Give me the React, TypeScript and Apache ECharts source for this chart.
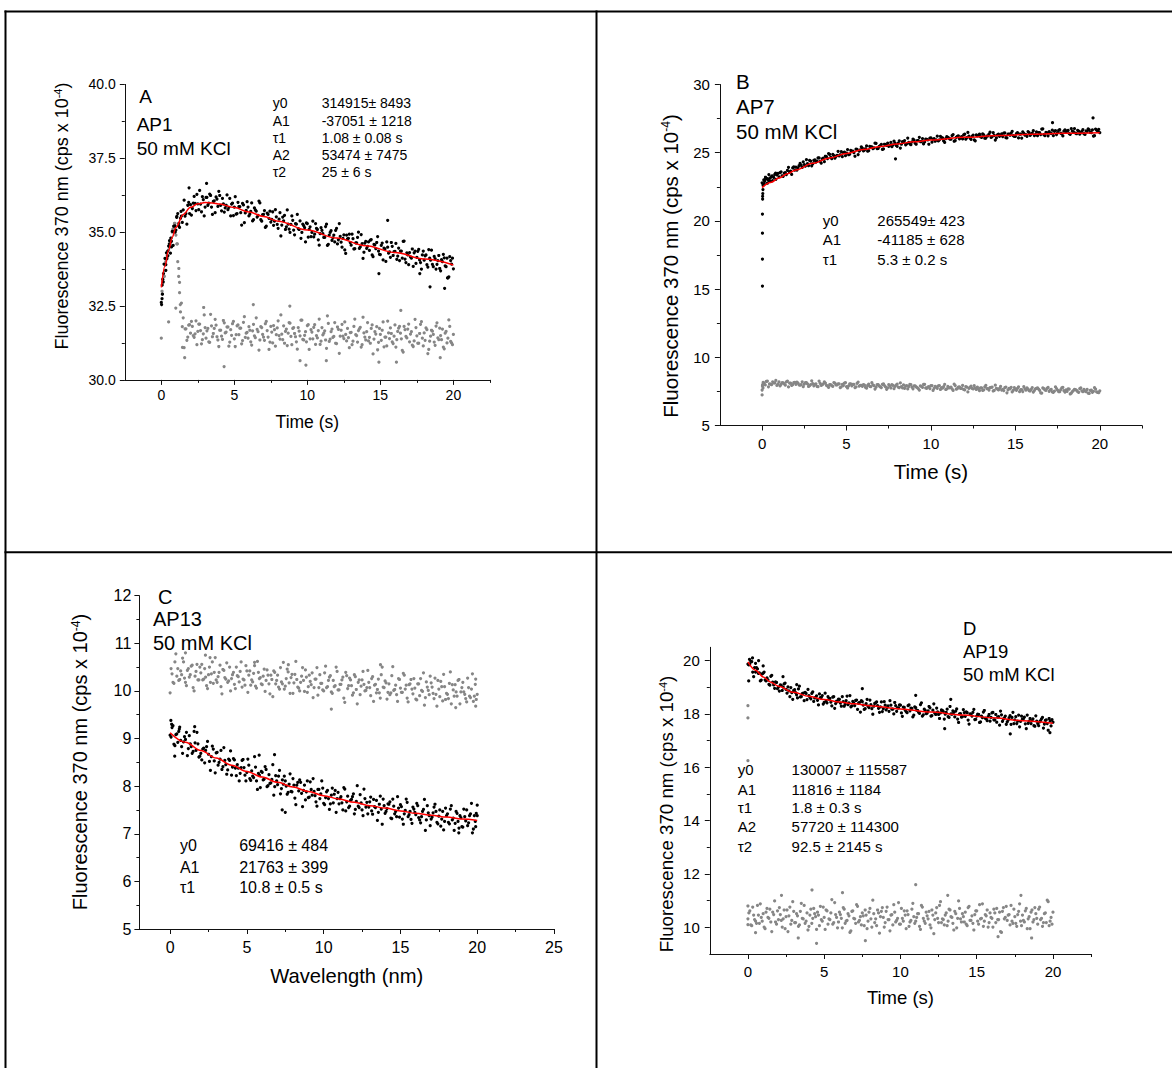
import React, { useEffect, useRef } from "react";
import * as echarts from "echarts";

// sampling step of the time grid (s); "2" arrays are sampled half a step later
const STEP = 0.125;

// ---------------- Panel A (AP1) ----------------
const aBlack = [
  32.62, 33.32, 34.11, 34.10, 34.53, 34.29, 35.03, 35.02,
  35.07, 35.63, 35.16, 35.54, 35.75, 35.54, 35.27, 36.01,
  35.93, 35.80, 36.21, 35.73, 35.96, 36.41, 35.69, 36.10,
  35.85, 36.18, 35.98, 36.24, 35.60, 36.06, 36.19, 35.87,
  36.24, 35.72, 35.96, 35.82, 36.26, 35.84, 35.55, 35.98,
  35.85, 35.61, 36.01, 35.86, 35.24, 35.92, 35.65, 36.03,
  35.55, 35.70, 35.38, 35.82, 35.71, 35.57, 35.99, 35.37,
  35.60, 35.16, 35.64, 35.47, 35.34, 35.69, 35.37, 35.52,
  35.13, 35.66, 35.24, 35.38, 35.09, 35.75, 35.10, 35.26,
  35.40, 34.91, 35.27, 35.12, 35.38, 34.99, 35.22, 34.67,
  35.29, 35.09, 34.85, 35.37, 34.93, 35.13, 34.74, 34.95,
  35.06, 34.82, 35.19, 34.55, 34.90, 35.05, 34.81, 34.67,
  35.13, 34.74, 34.86, 34.49, 34.91, 34.28, 34.77, 34.93,
  34.56, 34.78, 34.44, 34.64, 35.00, 34.50, 34.61, 34.32,
  34.69, 34.52, 34.38, 34.75, 34.17, 34.57, 34.65, 34.36,
  34.24, 34.63, 34.46, 34.01, 34.49, 34.33, 34.65, 34.21,
  34.35, 34.08, 34.46, 34.36, 34.12, 34.70, 33.97, 34.23,
  34.31, 34.12, 33.84, 34.36, 34.15, 34.42, 33.97, 34.23,
  34.05, 34.23, 33.82, 34.12, 34.39, 33.83, 34.10, 33.91,
  34.21, 33.69, 34.00, 34.13, 33.83, 33.45, 34.17, 33.92,
  33.76,
];
const aBlack2 = [
  33.21, 33.92, 33.71, 34.36, 34.71, 34.69, 34.55, 35.21,
  35.53, 35.21, 35.47, 35.33, 36.08, 35.63, 35.91, 35.63,
  35.58, 35.98, 35.97, 36.28, 35.76, 35.95, 36.20, 35.55,
  36.18, 35.91, 36.29, 35.85, 36.04, 35.66, 36.12, 36.38,
  35.91, 36.14, 35.68, 35.91, 35.76, 36.14, 35.95, 35.56,
  36.20, 35.63, 35.86, 35.66, 35.97, 35.32, 35.74, 35.85,
  35.61, 35.99, 35.42, 35.75, 35.51, 36.05, 35.42, 35.59,
  35.73, 35.20, 35.60, 35.71, 35.43, 35.23, 35.76, 35.26,
  35.44, 34.87, 35.51, 35.57, 35.18, 35.27, 34.99, 35.55,
  35.07, 35.29, 35.60, 35.09, 34.79, 35.27, 35.15, 35.31,
  34.83, 35.18, 34.99, 34.84, 35.29, 35.09, 34.56, 35.15,
  34.95, 34.82, 35.27, 34.59, 34.99, 34.72, 34.90, 35.06,
  34.60, 35.29, 34.66, 34.79, 34.40, 34.90, 34.79, 34.65,
  34.93, 34.43, 34.64, 34.82, 34.45, 34.92, 34.11, 34.63,
  34.45, 34.67, 34.73, 34.23, 34.59, 34.44, 34.85, 34.25,
  34.55, 34.06, 34.43, 34.67, 34.29, 34.15, 34.52, 34.34,
  34.62, 34.19, 34.04, 34.36, 34.69, 34.09, 34.30, 33.90,
  34.16, 34.43, 34.30, 33.94, 34.35, 34.06, 33.75, 34.36,
  34.20, 33.90, 34.41, 34.05, 33.91, 34.18, 33.75, 34.04,
  33.77, 34.07, 34.25, 33.86, 34.12, 33.49, 34.04, 34.12,
];
const aBlackExtra = [
  [0.02, 32.55], [0.05, 32.75], [0.08, 32.9], [0.1, 33.4], [0.15, 33.6], [0.3, 33.9],
  [0.35, 34.3], [0.45, 34.2], [0.55, 34.6], [0.65, 34.8], [0.7, 34.5], [0.85, 35.2],
  [0.95, 35.0], [1.05, 35.5], [1.2, 35.3], [1.35, 35.7], [3.1, 36.65], [1.9, 36.5],
  [15.5, 35.4], [18.4, 33.15], [19.4, 33.1], [19.6, 33.45], [14.9, 33.6], [17.7, 33.6],
];
const aGray = [
  31.41, 33.3, 33.7, 34.1, 34.4, 34.6, 35.0, 35.2,
  34.9, 34.0, 33.3, 32.6, 32.10, 31.73, 31.34, 31.85,
  31.58, 31.81, 31.44, 32.00, 31.64, 31.89, 31.22, 31.56,
  31.77, 31.66, 31.29, 32.22, 31.46, 31.74, 31.85, 31.35,
  31.68, 31.48, 32.01, 31.59, 31.79, 31.14, 31.70, 31.90,
  31.39, 31.53, 31.86, 31.75, 31.22, 31.95, 31.44, 31.61,
  31.80, 31.29, 31.66, 31.49, 32.10, 31.63, 31.35, 31.77,
  31.45, 31.90, 31.67, 31.03, 31.81, 31.25, 31.70, 31.53,
  32.00, 31.38, 31.55, 31.83, 31.64, 31.16, 31.94, 31.47,
  31.74, 31.57, 31.29, 31.77, 31.49, 32.02, 31.35, 31.63,
  31.84, 31.03, 31.70, 31.39, 31.87, 31.50, 31.67, 31.20,
  31.77, 31.58, 31.35, 32.17, 31.30, 31.63, 31.44, 31.94,
  31.23, 31.71, 31.48, 31.88, 31.40, 31.54, 31.74, 31.09,
  31.61, 31.31, 32.06, 31.50, 31.67, 31.78, 31.19, 31.59,
  31.35, 31.94, 31.44, 31.74, 30.88, 31.63, 31.80, 31.27,
  31.54, 31.68, 31.12, 31.45, 31.99, 31.40, 31.57, 31.23,
  31.86, 31.36, 31.75, 31.58, 31.00, 31.81, 31.47, 31.72,
  31.29, 31.63, 31.13, 32.05, 31.49, 31.24, 31.88, 31.41,
  31.59, 31.76, 30.89, 31.31, 31.68, 31.54, 31.17, 31.93,
  31.36, 31.50, 31.72, 31.05, 31.64, 31.41, 31.81, 31.25,
  31.54,
];
const aGray2 = [
  32.9, 33.5, 33.9, 34.2, 34.5, 34.8, 35.1, 35.3,
  34.6, 33.5, 32.3, 31.8, 31.09, 31.73, 31.45, 31.87,
  31.98, 31.50, 31.56, 31.19, 31.89, 31.67, 31.36, 32.20,
  31.41, 31.74, 31.27, 31.83, 31.57, 32.05, 31.46, 31.13,
  31.68, 31.37, 31.93, 31.62, 31.79, 31.28, 31.51, 31.98,
  31.13, 31.83, 31.53, 31.75, 31.33, 32.14, 31.58, 31.41,
  31.68, 31.18, 31.88, 31.43, 31.71, 31.01, 31.80, 31.54,
  31.34, 31.98, 31.45, 31.28, 31.62, 31.84, 31.14, 31.76,
  31.50, 32.20, 31.36, 31.24, 31.72, 31.58, 31.92, 31.19,
  31.77, 31.46, 31.04, 31.65, 32.02, 31.37, 31.51, 31.29,
  31.87, 31.39, 31.62, 31.78, 31.20, 31.42, 32.06, 31.31,
  31.52, 31.66, 31.07, 31.91, 31.38, 31.72, 31.47, 31.24,
  31.79, 30.90, 31.68, 31.48, 31.96, 31.32, 31.43, 31.60,
  31.19, 31.81, 31.53, 31.28, 31.73, 31.11, 32.12, 31.45,
  31.63, 31.32, 31.24, 31.86, 31.38, 31.55, 31.02, 31.74,
  31.34, 31.96, 31.45, 31.15, 31.59, 31.76, 31.29, 31.48,
  31.11, 31.64, 31.81, 31.39, 30.94, 31.70, 31.42, 31.89,
  31.55, 31.18, 31.32, 31.77, 31.24, 31.57, 31.97, 31.15,
  31.34, 31.70, 31.03, 31.48, 31.65, 31.28, 31.82, 31.42,
  31.75, 31.36, 31.11, 31.58, 31.25, 32.03, 31.30, 31.19,
];
const aGrayExtra = [
  [0.05, 33.0], [0.1, 33.4], [0.2, 33.5], [0.3, 34.0], [0.4, 34.2], [0.5, 31.96],
  [0.6, 34.5], [0.7, 34.7], [0.8, 35.1], [0.9, 35.3], [0.99, 32.43], [1.1, 34.6],
  [1.2, 33.77], [1.25, 32.95], [1.3, 32.55], [1.45, 31.1], [1.6, 30.75], [4.3, 30.45],
  [9.9, 30.5], [9.5, 30.65], [11.3, 30.65], [14.9, 30.6], [16.1, 30.6], [19.1, 30.75],
  [6.3, 32.55], [8.8, 32.5], [2.9, 32.45], [16.4, 32.35],
];
const aFitT = [0, 0.25, 0.5, 0.75, 1, 1.5, 2, 2.5, 3, 3.5, 4, 5, 6, 7, 8, 10, 12, 14, 16, 18, 20];
const aFitY = [33.13, 33.85, 34.40, 34.83, 35.16, 35.60, 35.84, 35.96, 36.00, 35.99, 35.95, 35.83, 35.68, 35.53, 35.37, 35.07, 34.80, 34.54, 34.31, 34.09, 33.89];

// ---------------- Panel B (AP7) ----------------
const bBlack = [
  22.79, 22.71, 23.10, 22.97, 23.18, 22.95, 23.41, 23.37,
  23.23, 23.60, 23.27, 23.54, 23.70, 23.57, 23.41, 23.96,
  23.94, 23.89, 24.21, 23.92, 24.13, 24.49, 24.05, 24.39,
  24.19, 24.47, 24.38, 24.62, 24.23, 24.60, 24.74, 24.57,
  24.87, 24.56, 24.78, 24.73, 25.10, 24.85, 24.71, 25.05,
  24.97, 24.85, 25.17, 25.12, 24.74, 25.25, 25.11, 25.43,
  25.14, 25.29, 25.11, 25.46, 25.43, 25.35, 25.69, 25.31,
  25.51, 25.24, 25.62, 25.53, 25.47, 25.75, 25.57, 25.71,
  25.47, 25.87, 25.62, 25.75, 25.58, 26.07, 25.65, 25.80,
  25.92, 25.62, 25.89, 25.82, 26.04, 25.79, 25.98, 25.62,
  26.08, 25.97, 25.84, 26.21, 25.94, 26.11, 25.86, 26.03,
  26.13, 25.99, 26.26, 25.84, 26.12, 26.24, 26.09, 26.01,
  26.36, 26.11, 26.21, 25.98, 26.29, 25.87, 26.23, 26.36,
  26.12, 26.30, 26.07, 26.24, 26.50, 26.18, 26.27, 26.08,
  26.37, 26.27, 26.18, 26.46, 26.08, 26.37, 26.44, 26.25,
  26.19, 26.47, 26.37, 26.07, 26.42, 26.32, 26.55, 26.27,
  26.43, 26.26, 26.53, 26.48, 26.33, 26.75, 26.25, 26.46,
  26.55, 26.42, 26.25, 26.62, 26.48, 26.69, 26.38, 26.58,
  26.49, 26.63, 26.35, 26.58, 26.77, 26.39, 26.59, 26.48,
  26.69, 26.34, 26.57, 26.67, 26.47, 26.22, 26.73, 26.58,
  26.47,
];
const bBlack2 = [
  22.70, 23.04, 22.76, 23.10, 23.27, 23.19, 23.05, 23.48,
  23.54, 23.31, 23.50, 23.40, 23.93, 23.65, 23.88, 23.73,
  23.73, 24.05, 24.08, 24.33, 24.02, 24.20, 24.43, 24.04,
  24.44, 24.31, 24.62, 24.36, 24.55, 24.34, 24.71, 24.94,
  24.66, 24.87, 24.60, 24.81, 24.77, 25.08, 25.00, 24.78,
  25.23, 24.89, 25.09, 25.00, 25.26, 24.86, 25.20, 25.33,
  25.19, 25.50, 25.15, 25.42, 25.30, 25.70, 25.30, 25.47,
  25.61, 25.28, 25.60, 25.71, 25.54, 25.44, 25.85, 25.54,
  25.70, 25.34, 25.81, 25.89, 25.65, 25.75, 25.59, 26.00,
  25.70, 25.89, 26.13, 25.81, 25.64, 26.00, 25.94, 26.07,
  25.77, 26.04, 25.94, 25.86, 26.20, 26.09, 25.75, 26.18,
  26.07, 26.00, 26.33, 25.88, 26.19, 26.02, 26.17, 26.30,
  25.99, 26.49, 26.07, 26.19, 25.94, 26.30, 26.25, 26.17,
  26.38, 26.06, 26.22, 26.37, 26.12, 26.47, 25.93, 26.30,
  26.20, 26.38, 26.43, 26.10, 26.37, 26.28, 26.57, 26.19,
  26.40, 26.08, 26.36, 26.53, 26.29, 26.20, 26.47, 26.37,
  26.61, 26.33, 26.25, 26.48, 26.73, 26.32, 26.49, 26.24,
  26.44, 26.65, 26.57, 26.33, 26.63, 26.44, 26.23, 26.68,
  26.60, 26.40, 26.77, 26.53, 26.44, 26.64, 26.36, 26.57,
  26.39, 26.60, 26.75, 26.49, 26.67, 26.25, 26.65, 26.71,
];
const bBlackExtra = [
  [0.02, 15.22], [0.02, 17.2], [0.02, 19.1], [0.02, 20.5], [0.03, 21.6], [0.03, 21.8],
  [0.04, 22.0], [0.05, 22.3], [0.06, 22.6], [0.1, 23.0], [0.15, 22.9], [0.2, 23.2],
  [0.3, 23.1], [0.4, 23.4], [0.5, 22.9], [0.6, 23.3], [0.8, 23.5], [19.6, 27.55],
  [7.9, 24.55], [17.2, 27.2],
];
const bGray = [
  7.24, 8.11, 8.24, 7.84, 8.04, 8.20, 8.12, 7.94,
  8.19, 8.02, 8.12, 7.96, 8.26, 8.11, 7.94, 8.15,
  8.02, 8.11, 7.96, 8.20, 8.04, 8.15, 7.86, 8.00,
  8.07, 8.02, 7.87, 8.26, 7.94, 8.06, 8.11, 7.89,
  8.00, 7.92, 8.15, 7.97, 8.05, 7.78, 8.02, 8.10,
  7.85, 7.91, 8.06, 8.01, 7.78, 8.09, 7.88, 7.95,
  8.00, 7.79, 7.94, 7.87, 8.14, 7.93, 7.81, 7.99,
  7.83, 8.02, 7.93, 7.65, 7.99, 7.75, 7.94, 7.87,
  8.04, 7.78, 7.85, 7.97, 7.88, 7.68, 8.02, 7.81,
  7.90, 7.83, 7.71, 7.91, 7.79, 8.02, 7.73, 7.85,
  7.92, 7.57, 7.86, 7.73, 7.93, 7.78, 7.85, 7.64,
  7.87, 7.78, 7.69, 8.03, 7.66, 7.81, 7.72, 7.94,
  7.61, 7.81, 7.72, 7.88, 7.68, 7.74, 7.82, 7.55,
  7.75, 7.61, 7.94, 7.70, 7.77, 7.82, 7.57, 7.73,
  7.61, 7.86, 7.64, 7.78, 7.40, 7.73, 7.80, 7.57,
  7.66, 7.72, 7.48, 7.63, 7.85, 7.60, 7.67, 7.53,
  7.78, 7.56, 7.73, 7.66, 7.40, 7.75, 7.61, 7.72,
  7.51, 7.65, 7.43, 7.83, 7.59, 7.48, 7.76, 7.55,
  7.61, 7.68, 7.31, 7.49, 7.64, 7.58, 7.43, 7.75,
  7.48, 7.54, 7.64, 7.35, 7.60, 7.51, 7.67, 7.43,
  7.54,
];
const bGray2 = [
  8.16, 7.97, 8.26, 8.05, 7.99, 8.12, 8.30, 8.03,
  7.90, 8.14, 8.06, 8.19, 7.83, 8.11, 7.99, 8.17,
  8.18, 7.98, 8.00, 7.85, 8.15, 8.05, 7.92, 8.28,
  7.91, 8.06, 7.85, 8.09, 7.99, 8.19, 7.94, 7.79,
  8.00, 7.87, 8.11, 7.98, 8.05, 7.84, 7.93, 8.14,
  7.75, 8.05, 7.91, 8.01, 7.83, 8.18, 7.94, 7.87,
  7.96, 7.74, 8.04, 7.85, 7.97, 7.67, 8.00, 7.90,
  7.78, 8.06, 7.83, 7.76, 7.90, 8.00, 7.70, 7.96,
  7.82, 8.12, 7.76, 7.72, 7.92, 7.86, 8.00, 7.69,
  7.91, 7.78, 7.60, 7.87, 8.02, 7.75, 7.81, 7.71,
  7.93, 7.73, 7.82, 7.90, 7.64, 7.74, 8.02, 7.69,
  7.76, 7.82, 7.57, 7.93, 7.70, 7.84, 7.73, 7.64,
  7.85, 7.46, 7.80, 7.72, 7.92, 7.64, 7.69, 7.76,
  7.57, 7.83, 7.71, 7.60, 7.79, 7.53, 7.96, 7.67,
  7.73, 7.60, 7.56, 7.82, 7.62, 7.69, 7.46, 7.78,
  7.58, 7.84, 7.63, 7.49, 7.69, 7.76, 7.55, 7.64,
  7.45, 7.68, 7.75, 7.57, 7.38, 7.70, 7.58, 7.79,
  7.61, 7.46, 7.52, 7.71, 7.48, 7.63, 7.79, 7.45,
  7.50, 7.66, 7.37, 7.56, 7.63, 7.48, 7.70, 7.54,
  7.65, 7.48, 7.37, 7.58, 7.43, 7.77, 7.46, 7.41,
];
const bGrayExtra = [[0.0, 7.6], [0.02, 7.9], [0.03, 8.0], [0.05, 7.75]];
const bFitT = [0, 0.5, 1, 1.5, 2, 3, 4, 5, 6, 7, 8, 9, 10, 12, 14, 16, 18, 20];
const bFitY = [22.44, 22.81, 23.14, 23.45, 23.73, 24.22, 24.62, 24.95, 25.23, 25.46, 25.64, 25.80, 25.93, 26.13, 26.26, 26.35, 26.42, 26.46];

// ---------------- Panel C (AP13) ----------------
const cBlack = [
  9.07, 9.23, 8.88, 9.08, 8.92, 9.24, 8.83, 8.93,
  8.98, 8.64, 9.06, 8.83, 8.73, 8.91, 9.13, 8.61,
  8.69, 8.78, 8.49, 8.83, 8.67, 8.33, 8.84, 8.53,
  8.70, 8.44, 8.57, 8.35, 8.81, 8.45, 8.34, 8.54,
  8.23, 8.58, 8.38, 8.45, 8.11, 8.39, 8.56, 8.23,
  8.29, 8.44, 8.12, 8.21, 8.62, 8.11, 8.27, 7.97,
  8.29, 8.15, 8.35, 8.01, 8.06, 8.14, 7.81, 8.22,
  8.03, 8.33, 7.95, 8.04, 8.11, 7.83, 8.04, 7.89,
  8.16, 7.75, 8.02, 7.90, 8.08, 7.57, 8.02, 7.88,
  7.76, 8.09, 7.81, 7.89, 7.67, 7.93, 7.74, 8.11,
  7.64, 7.76, 7.91, 7.51, 7.81, 7.65, 7.91, 7.74,
  7.63, 7.78, 7.50, 7.94, 7.67, 7.55, 7.70, 7.78,
  7.42, 7.68, 7.58, 7.82, 7.50, 7.94, 7.56, 7.42,
  7.67, 7.48, 7.72, 7.55, 7.28, 7.62, 7.52, 7.73,
  7.43, 7.53, 7.62, 7.33, 7.73, 7.42, 7.36, 7.54,
  7.61, 7.31, 7.42, 7.73, 7.36, 7.47, 7.22, 7.52,
  7.40, 7.59, 7.29, 7.36, 7.51, 7.07, 7.59, 7.38,
  7.31, 7.44, 7.62, 7.24, 7.37, 7.16, 7.47, 7.26,
  7.38, 7.24, 7.52, 7.29, 7.07, 7.47, 7.26, 7.38,
  7.15, 7.52, 7.27, 7.17, 7.38, 7.64, 7.10, 7.26,
  7.38,
];
const cBlack2 = [
  9.03, 9.27, 8.85, 9.10, 9.15, 8.96, 8.69, 9.04,
  9.13, 8.79, 8.89, 8.69, 9.15, 8.75, 8.89, 8.63,
  8.55, 8.80, 8.75, 8.94, 8.52, 8.62, 8.78, 8.28,
  8.71, 8.50, 8.75, 8.41, 8.54, 8.25, 8.57, 8.74,
  8.40, 8.55, 8.22, 8.38, 8.27, 8.54, 8.39, 8.11,
  8.57, 8.16, 8.32, 8.18, 8.40, 7.93, 8.23, 8.31,
  8.13, 8.41, 7.99, 8.24, 8.07, 8.45, 7.99, 8.11,
  8.21, 7.84, 8.13, 8.21, 8.00, 7.87, 8.26, 7.88,
  8.02, 7.61, 8.08, 8.13, 7.85, 7.91, 7.71, 8.11,
  7.77, 7.93, 8.16, 7.80, 7.58, 7.93, 7.84, 7.96,
  7.61, 7.88, 7.74, 7.63, 7.96, 7.83, 7.45, 7.87,
  7.74, 7.65, 7.97, 7.48, 7.79, 7.58, 7.72, 7.84,
  7.51, 8.01, 7.55, 7.65, 7.38, 7.74, 7.66, 7.56,
  7.77, 7.41, 7.57, 7.70, 7.45, 7.79, 7.20, 7.59,
  7.47, 7.63, 7.67, 7.32, 7.58, 7.47, 7.78, 7.35,
  7.57, 7.20, 7.49, 7.66, 7.40, 7.30, 7.56, 7.45,
  7.64, 7.34, 7.23, 7.47, 7.72, 7.29, 7.44, 7.17,
  7.35, 7.56, 7.47, 7.21, 7.50, 7.31, 7.08, 7.54,
  7.42, 7.21, 7.59, 7.33, 7.22, 7.43, 7.12, 7.34,
  7.14, 7.36, 7.50, 7.23, 7.42, 7.02, 7.38, 7.43,
];
const cBlackExtra = [
  [0.05, 9.38], [0.1, 9.3], [0.3, 8.63], [0.6, 9.2], [1.6, 9.25], [7.3, 7.5],
  [7.5, 7.45], [18.8, 7.02], [20, 7.6], [19.9, 7.15], [6.8, 8.66], [5.8, 8.65],
];
const cGray = [
  9.96, 10.36, 10.16, 10.78, 10.47, 10.24, 10.34, 10.61,
  10.18, 10.43, 10.29, 10.52, 10.07, 10.31, 10.56, 10.23,
  10.38, 10.23, 10.47, 10.11, 10.34, 10.18, 10.61, 10.39,
  10.23, 10.30, 10.54, 9.94, 10.43, 10.25, 10.18, 10.50,
  10.26, 10.39, 10.05, 10.32, 10.19, 10.61, 10.25, 10.12,
  10.42, 10.33, 10.12, 10.19, 10.53, 10.06, 10.39, 10.28,
  10.13, 10.46, 10.22, 10.33, 9.94, 10.24, 10.42, 10.15,
  10.33, 10.04, 10.19, 10.60, 10.10, 10.46, 10.17, 10.28,
  9.95, 10.35, 10.24, 10.06, 10.18, 10.49, 9.99, 10.29,
  10.09, 10.20, 10.38, 10.07, 10.25, 9.91, 10.34, 10.16,
  10.00, 10.52, 10.09, 10.29, 9.98, 10.22, 10.11, 10.41,
  10.02, 10.14, 10.29, 9.76, 10.32, 10.11, 10.23, 9.91,
  10.34, 10.03, 10.18, 9.92, 10.23, 10.14, 10.01, 10.43,
  10.07, 10.26, 9.78, 10.14, 10.03, 9.96, 10.34, 10.08,
  10.21, 9.83, 10.15, 9.96, 10.51, 10.03, 9.92, 10.26,
  10.06, 9.97, 10.33, 10.12, 9.77, 10.15, 10.04, 10.26,
  9.83, 10.15, 9.90, 10.01, 10.38, 9.86, 10.08, 9.92,
  10.17, 9.95, 10.27, 9.68, 10.04, 10.20, 9.79, 10.09,
  9.95, 9.84, 10.40, 10.13, 9.89, 9.98, 10.22, 9.73,
  10.07, 9.98, 9.84, 10.27, 9.89, 10.04, 9.78, 10.14,
  9.93,
];
const cGray2 = [
  10.47, 10.18, 10.61, 10.31, 10.22, 10.42, 10.69, 10.27,
  10.11, 10.47, 10.34, 10.54, 10.00, 10.41, 10.23, 10.50,
  10.56, 10.25, 10.29, 10.05, 10.50, 10.36, 10.16, 10.70,
  10.18, 10.39, 10.09, 10.45, 10.28, 10.59, 10.21, 10.00,
  10.34, 10.14, 10.50, 10.30, 10.41, 10.08, 10.23, 10.53,
  9.97, 10.42, 10.23, 10.37, 10.10, 10.62, 10.26, 10.15,
  10.31, 9.99, 10.44, 10.15, 10.33, 9.88, 10.39, 10.22,
  10.08, 10.49, 10.15, 10.04, 10.26, 10.40, 9.95, 10.35,
  10.17, 10.62, 10.08, 10.00, 10.31, 10.22, 10.44, 9.97,
  10.33, 10.13, 9.86, 10.25, 10.49, 10.07, 10.16, 10.02,
  10.38, 10.07, 10.22, 10.32, 9.95, 10.09, 10.50, 10.02,
  10.14, 10.23, 9.85, 10.39, 10.05, 10.27, 10.11, 9.96,
  10.30, 9.73, 10.23, 10.10, 10.41, 10.00, 10.07, 10.18,
  9.90, 10.30, 10.12, 9.96, 10.25, 9.85, 10.50, 10.07,
  10.17, 9.97, 9.92, 10.32, 10.01, 10.12, 9.78, 10.24,
  9.97, 10.37, 10.04, 9.85, 10.13, 10.24, 9.94, 10.06,
  9.81, 10.15, 10.26, 9.99, 9.70, 10.19, 10.01, 10.31,
  10.08, 9.84, 9.93, 10.22, 9.88, 10.09, 10.35, 9.82,
  9.93, 10.16, 9.73, 10.02, 10.13, 9.89, 10.24, 9.98,
  10.18, 9.93, 9.77, 10.07, 9.86, 10.36, 9.89, 9.82,
];
const cGrayExtra = [
  [1.0, 10.8], [2.3, 10.75], [2.6, 10.7], [5.5, 10.6], [7.7, 10.55], [10.5, 9.62],
  [13.7, 10.55], [18.6, 9.65], [19.9, 10.25], [19.9, 9.68],
];
const cFitT = [0, 1, 2, 3, 4, 5, 6, 7, 8, 9, 10, 11, 12, 13, 14, 15, 16, 17, 18, 19, 20];
const cFitY = [9.12, 8.92, 8.75, 8.59, 8.44, 8.31, 8.19, 8.08, 7.98, 7.89, 7.80, 7.73, 7.66, 7.59, 7.54, 7.48, 7.43, 7.39, 7.35, 7.31, 7.28];

// ---------------- Panel D (AP19) ----------------
const dBlack = [
  19.87, 19.88, 19.96, 19.40, 19.57, 19.69, 19.54, 19.27,
  19.53, 19.28, 19.35, 19.11, 19.41, 19.19, 18.96, 19.18,
  19.01, 19.09, 18.88, 19.13, 18.92, 19.02, 18.65, 18.80,
  18.88, 18.80, 18.60, 19.04, 18.65, 18.78, 18.81, 18.54,
  18.69, 18.57, 18.83, 18.60, 18.68, 18.34, 18.61, 18.69,
  18.43, 18.49, 18.65, 18.58, 18.30, 18.65, 18.39, 18.46,
  18.55, 18.29, 18.46, 18.36, 18.67, 18.42, 18.27, 18.47,
  18.31, 18.52, 18.40, 18.07, 18.46, 18.17, 18.39, 18.29,
  18.52, 18.20, 18.29, 18.42, 18.31, 18.06, 18.45, 18.20,
  18.33, 18.24, 18.10, 18.33, 18.18, 18.43, 18.10, 18.23,
  18.33, 17.91, 18.25, 18.09, 18.31, 18.12, 18.21, 17.96,
  18.24, 18.13, 18.02, 18.42, 17.97, 18.13, 18.03, 18.28,
  17.92, 18.14, 18.03, 18.22, 17.98, 18.04, 18.13, 17.81,
  18.06, 17.90, 18.28, 17.99, 18.06, 18.11, 17.81, 18.00,
  17.88, 18.16, 17.91, 18.05, 17.62, 17.99, 18.06, 17.79,
  17.92, 17.98, 17.70, 17.86, 18.13, 17.82, 17.90, 17.73,
  18.04, 17.78, 17.98, 17.88, 17.58, 17.97, 17.81, 17.92,
  17.70, 17.86, 17.61, 18.06, 17.78, 17.64, 17.96, 17.72,
  17.81, 17.88, 17.45, 17.65, 17.83, 17.75, 17.56, 17.93,
  17.64, 17.70, 17.82, 17.47, 17.76, 17.64, 17.83, 17.55,
  17.69,
];
const dBlack2 = [
  19.84, 19.98, 19.57, 19.74, 19.74, 19.52, 19.24, 19.50,
  19.57, 19.24, 19.28, 19.08, 19.45, 19.09, 19.20, 18.95,
  18.86, 19.07, 19.01, 19.16, 18.78, 18.87, 18.99, 18.55,
  18.91, 18.72, 18.94, 18.64, 18.76, 18.50, 18.77, 18.92,
  18.62, 18.77, 18.47, 18.61, 18.51, 18.75, 18.62, 18.37,
  18.78, 18.42, 18.56, 18.44, 18.63, 18.21, 18.48, 18.56,
  18.41, 18.65, 18.29, 18.50, 18.35, 18.69, 18.30, 18.42,
  18.51, 18.17, 18.43, 18.50, 18.33, 18.20, 18.55, 18.24,
  18.35, 17.99, 18.40, 18.45, 18.21, 18.27, 18.09, 18.46,
  18.15, 18.30, 18.50, 18.18, 18.00, 18.31, 18.23, 18.34,
  18.04, 18.26, 18.14, 18.05, 18.34, 18.22, 17.89, 18.27,
  18.14, 18.06, 18.35, 17.92, 18.18, 18.01, 18.12, 18.23,
  17.94, 18.38, 17.98, 18.08, 17.83, 18.15, 18.09, 17.99,
  18.18, 17.87, 18.00, 18.12, 17.89, 18.19, 17.68, 18.01,
  17.90, 18.05, 18.08, 17.77, 18.00, 17.92, 18.17, 17.80,
  17.99, 17.68, 17.92, 18.07, 17.84, 17.75, 17.98, 17.87,
  18.06, 17.78, 17.69, 17.90, 18.11, 17.72, 17.85, 17.61,
  17.77, 17.94, 17.87, 17.64, 17.90, 17.73, 17.52, 17.92,
  17.82, 17.63, 17.96, 17.73, 17.64, 17.82, 17.54, 17.73,
  17.56, 17.75, 17.87, 17.62, 17.78, 17.39, 17.74, 17.79,
];
const dBlackExtra = [
  [0.05, 19.24], [0.1, 20.05], [0.3, 20.1], [0.5, 19.9], [0.7, 20.0], [1.0, 19.8],
  [7.5, 18.95], [11, 18.7], [13.3, 18.55], [17.2, 17.25], [12.9, 17.45], [3.2, 19.1],
  [2.3, 19.4], [19.8, 17.3],
];
const dGray = [
  10.32, 10.62, 10.06, 10.46, 10.23, 10.82, 10.15, 10.37,
  10.51, 9.95, 10.71, 10.34, 10.20, 10.57, 10.99, 10.12,
  10.29, 10.48, 10.01, 10.65, 10.40, 9.84, 10.76, 10.26,
  10.60, 10.18, 10.43, 10.09, 10.90, 10.32, 10.15, 10.54,
  10.04, 10.68, 10.34, 10.51, 9.92, 10.46, 10.79, 10.23,
  10.37, 10.65, 10.12, 10.29, 11.04, 10.18, 10.48, 9.98,
  10.57, 10.34, 10.74, 10.15, 10.26, 10.43, 9.87, 10.62,
  10.32, 10.85, 10.20, 10.40, 10.54, 10.06, 10.46, 10.23,
  10.71, 10.01, 10.51, 10.32, 10.65, 9.78, 10.60, 10.37,
  10.18, 10.76, 10.29, 10.46, 10.09, 10.57, 10.26, 10.93,
  10.12, 10.34, 10.62, 9.95, 10.48, 10.20, 10.68, 10.40,
  10.23, 10.51, 10.04, 10.82, 10.34, 10.15, 10.43, 10.60,
  9.98, 10.46, 10.29, 10.74, 10.18, 10.96, 10.32, 10.09,
  10.54, 10.23, 10.65, 10.37, 9.90, 10.51, 10.34, 10.71,
  10.20, 10.40, 10.57, 10.06, 10.79, 10.26, 10.15, 10.48,
  10.62, 10.12, 10.32, 10.88, 10.23, 10.43, 10.01, 10.54,
  10.34, 10.68, 10.18, 10.29, 10.57, 9.81, 10.74, 10.37,
  10.26, 10.48, 10.82, 10.15, 10.40, 10.04, 10.60, 10.23,
  10.46, 10.20, 10.71, 10.32, 9.95, 10.65, 10.29, 10.51,
  10.12, 10.76, 10.34, 10.18, 10.54, 11.02, 10.06, 10.37,
  10.57,
];
const dGray2 = [
  10.54, 10.09, 10.76, 10.29, 10.15, 10.46, 10.88, 10.23,
  10.01, 10.57, 10.37, 10.68, 9.84, 10.48, 10.20, 10.62,
  10.74, 10.26, 10.32, 9.95, 10.65, 10.43, 10.12, 10.96,
  10.18, 10.51, 10.04, 10.60, 10.34, 10.82, 10.23, 9.90,
  10.46, 10.15, 10.71, 10.40, 10.57, 10.06, 10.29, 10.76,
  9.92, 10.62, 10.32, 10.54, 10.12, 10.93, 10.37, 10.20,
  10.48, 9.98, 10.68, 10.23, 10.51, 9.81, 10.60, 10.34,
  10.15, 10.79, 10.26, 10.09, 10.43, 10.65, 9.95, 10.57,
  10.32, 11.02, 10.18, 10.06, 10.54, 10.40, 10.74, 10.01,
  10.60, 10.29, 9.87, 10.48, 10.85, 10.20, 10.34, 10.12,
  10.71, 10.23, 10.46, 10.62, 10.04, 10.26, 10.90, 10.15,
  10.37, 10.51, 9.92, 10.76, 10.23, 10.57, 10.32, 10.09,
  10.65, 9.76, 10.54, 10.34, 10.82, 10.18, 10.29, 10.46,
  10.06, 10.68, 10.40, 10.15, 10.60, 9.98, 10.99, 10.32,
  10.51, 10.20, 10.12, 10.74, 10.26, 10.43, 9.90, 10.62,
  10.23, 10.85, 10.34, 10.04, 10.48, 10.65, 10.18, 10.37,
  10.01, 10.54, 10.71, 10.29, 9.84, 10.60, 10.32, 10.79,
  10.46, 10.09, 10.23, 10.68, 10.15, 10.48, 10.88, 10.06,
  10.26, 10.62, 9.95, 10.40, 10.57, 10.20, 10.74, 10.34,
  10.68, 10.29, 10.04, 10.51, 10.18, 10.96, 10.23, 10.12,
];
const dGrayExtra = [
  [0.0, 18.31], [0.0, 17.85], [0.0, 16.25], [0.0, 10.8], [0.0, 10.1], [4.5, 9.4],
  [7.7, 9.5], [11.0, 11.6], [4.2, 11.4], [3.3, 9.6], [18.6, 9.6], [16.4, 9.65],
  [2.2, 11.2], [6.2, 11.3], [13.1, 11.2], [17.9, 11.2], [0.5, 9.8],
];
const dFitT = [0, 0.5, 1, 1.5, 2, 3, 4, 5, 6, 7, 8, 10, 12, 14, 16, 18, 20];
const dFitY = [19.95, 19.64, 19.39, 19.19, 19.04, 18.81, 18.66, 18.54, 18.45, 18.38, 18.31, 18.19, 18.07, 17.96, 17.86, 17.75, 17.65];

// ---------------- tick values ----------------
const timeTicks = [0, 5, 10, 15, 20];
const timeMinor = [2.5, 7.5, 12.5, 17.5, 22.5];
const wlTicks = [0, 5, 10, 15, 20, 25];
const wlMinor = [2.5, 7.5, 12.5, 17.5, 22.5];
const aYTicks = [30, 32.5, 35, 37.5, 40];
const aYMinor = [31.25, 33.75, 36.25, 38.75];
const bYTicks = [5, 10, 15, 20, 25, 30];
const bYMinor = [7.5, 12.5, 17.5, 22.5, 27.5];
const cYTicks = [5, 6, 7, 8, 9, 10, 11, 12];
const cYMinor = [5.5, 6.5, 7.5, 8.5, 9.5, 10.5, 11.5];
const dYTicks = [10, 12, 14, 16, 18, 20];
const dYMinor = [11, 13, 15, 17, 19];

// ---------------- texts ----------------
const panelLetters = ["A", "B", "C", "D"];
const panelNames = ["AP1", "AP7", "AP13", "AP19"];
const saltText = "50 mM KCl";
const aParNames = ["y0", "A1", "\u03c41", "A2", "\u03c42"];
const aParVals = ["314915\u00b1 8493", "-37051 \u00b1 1218", "1.08 \u00b1 0.08 s", "53474 \u00b1 7475", "25 \u00b1 6 s"];
const bParNames = ["y0", "A1", "\u03c41"];
const bParVals = ["265549\u00b1 423", "-41185 \u00b1 628", "5.3 \u00b1 0.2 s"];
const cParNames = ["y0", "A1", "\u03c41"];
const cParVals = ["69416 \u00b1 484", "21763 \u00b1 399", "10.8 \u00b1 0.5 s"];
const dParNames = ["y0", "A1", "\u03c41", "A2", "\u03c42"];
const dParVals = ["130007 \u00b1 115587", "11816 \u00b1 1184", "1.8 \u00b1 0.3 s", "57720 \u00b1 114300", "92.5 \u00b1 2145 s"];

const FONT = '"Liberation Sans", Arial, Helvetica, sans-serif';
const AXIS = "#111";
const BLACK = "#000000";
const GRAY = "#868686";
const RED = "#ff0000";

function mkAxes(gi: number, c: any) {
  const base = {
    gridIndex: gi,
    type: "value",
    min: c.min,
    max: c.max,
    splitLine: { show: false },
    axisPointer: { show: false },
    position: c.pos,
  };
  const main = {
    ...base,
    axisLine: { show: true, onZero: false, lineStyle: { color: AXIS, width: 1 } },
    axisTick: { show: true, inside: false, length: 5, customValues: c.major, lineStyle: { color: AXIS, width: 1 } },
    axisLabel: {
      show: true,
      customValues: c.major,
      margin: c.margin,
      fontSize: c.font,
      fontFamily: FONT,
      color: "#000",
      formatter: (v: number) => (c.dec ? v.toFixed(c.dec) : String(v)),
    },
    minorTick: { show: false },
  };
  const minor = {
    ...base,
    axisLine: { show: false, onZero: false },
    axisTick: { show: true, inside: false, length: 3, customValues: c.minor, lineStyle: { color: AXIS, width: 1 } },
    axisLabel: { show: false },
  };
  return [main, minor];
}

const gridPts = (arr: number[]) => arr.map((y, i) => [i * STEP, y]);
const halfPts = (arr: number[]) => arr.map((y, i) => [(i + 0.5) * STEP, y]);

function scat(idx: number, data: any[], color: string, z: number) {
  return {
    type: "scatter",
    xAxisIndex: idx,
    yAxisIndex: idx,
    data,
    symbol: "circle",
    symbolSize: 3.2,
    itemStyle: { color, opacity: 1 },
    silent: true,
    z,
  };
}
function fitLine(idx: number, ts: number[], ys: number[]) {
  return {
    type: "line",
    xAxisIndex: idx,
    yAxisIndex: idx,
    data: ts.map((t, i) => [t, ys[i]]),
    showSymbol: false,
    symbol: "none",
    smooth: 0.35,
    smoothMonotone: "x",
    lineStyle: { color: RED, width: 1.5 },
    silent: true,
    z: 5,
  };
}

function txt(x: number, y: number, text: string, size: number) {
  return {
    type: "text",
    x,
    y,
    silent: true,
    z: 100,
    style: {
      text,
      fontSize: size,
      fontFamily: FONT,
      fill: "#000",
      textAlign: "left",
      align: "left",
      textVerticalAlign: "middle",
      verticalAlign: "middle",
    },
  };
}
function yTitle(x: number, y: number, size: number) {
  return {
    type: "text",
    x,
    y,
    rotation: Math.PI / 2,
    silent: true,
    z: 100,
    style: {
      text: "{a|Fluorescence 370 nm (cps x 10}{b|-4}{a|)}",
      fontSize: size,
      fontFamily: FONT,
      fill: "#000",
      textAlign: "center",
      align: "center",
      textVerticalAlign: "middle",
      verticalAlign: "middle",
      rich: {
        a: { fontSize: size, fontFamily: FONT, fill: "#000", color: "#000" },
        b: { fontSize: Math.round(size * 0.6), fontFamily: FONT, fill: "#000", color: "#000", verticalAlign: "top" },
      },
    },
  };
}
function line(x1: number, y1: number, x2: number, y2: number) {
  return {
    type: "line",
    silent: true,
    z: 100,
    shape: { x1, y1, x2, y2 },
    style: { stroke: "#000", lineWidth: 2 },
  };
}
function params(names: string[], vals: string[], xl: number, xv: number, ys: number[], size: number) {
  const out: any[] = [];
  names.forEach((n, i) => {
    out.push(txt(xl, ys[i], n, size));
    out.push(txt(xv, ys[i], vals[i], size));
  });
  return out;
}

export default function App() {
  const ref = useRef<HTMLDivElement>(null);
  useEffect(() => {
    if (!ref.current) return;
    const chart = echarts.init(ref.current, undefined, { renderer: "svg" });

    const ax = [
      { x: { min: -2.5, max: 22.5, major: timeTicks, minor: timeMinor, font: 14, margin: 8, pos: "bottom" },
        y: { min: 30, max: 40, major: aYTicks, minor: aYMinor, font: 14, margin: 9, pos: "left", dec: 1 } },
      { x: { min: -2.5, max: 22.5, major: timeTicks, minor: timeMinor, font: 15, margin: 10, pos: "bottom" },
        y: { min: 5, max: 30, major: bYTicks, minor: bYMinor, font: 15, margin: 10, pos: "left" } },
      { x: { min: -2, max: 25, major: wlTicks, minor: wlMinor, font: 16, margin: 10, pos: "bottom" },
        y: { min: 5, max: 12, major: cYTicks, minor: cYMinor, font: 16, margin: 8, pos: "left" } },
      { x: { min: -2.5, max: 22.5, major: timeTicks, minor: timeMinor, font: 15, margin: 10, pos: "bottom" },
        y: { min: 9, max: 20.5, major: dYTicks, minor: dYMinor, font: 15, margin: 10, pos: "left" } },
    ];
    const xMain: any[] = [], xMinor: any[] = [], yMain: any[] = [], yMinor: any[] = [];
    ax.forEach((a, i) => {
      const [xm, xn] = mkAxes(i, a.x);
      const [ym, yn] = mkAxes(i, a.y);
      xMain.push(xm); xMinor.push(xn); yMain.push(ym); yMinor.push(yn);
    });
    const xNames = [
      { name: "Time (s)", size: 17.5, gap: 33 },
      { name: "Time (s)", size: 20.5, gap: 35 },
      { name: "Wavelength (nm)", size: 20.2, gap: 37 },
      { name: "Time (s)", size: 18.5, gap: 34 },
    ];
    xNames.forEach((n, i) => {
      Object.assign(xMain[i], {
        name: n.name,
        nameLocation: "middle",
        nameGap: n.gap,
        nameTextStyle: { fontSize: n.size, fontFamily: FONT, color: "#000" },
      });
    });

    const option: any = {
      animation: false,
      backgroundColor: "#fff",
      grid: [
        { left: 124.8, top: 84.4, width: 365.1, height: 295.5 },
        { left: 719.9, top: 84.5, width: 422.1, height: 341 },
        { left: 139.4, top: 595.7, width: 414.6, height: 333.3 },
        { left: 709.8, top: 647.3, width: 381.3, height: 306.7 },
      ].map((g) => ({ ...g, containLabel: false, outerBoundsMode: "none", show: false })),
      xAxis: [...xMain, ...xMinor],
      yAxis: [...yMain, ...yMinor],
      series: [
        scat(0, [...gridPts(aGray), ...halfPts(aGray2), ...aGrayExtra], GRAY, 2),
        scat(0, [...gridPts(aBlack), ...halfPts(aBlack2), ...aBlackExtra], BLACK, 3),
        fitLine(0, aFitT, aFitY),
        scat(1, [...gridPts(bGray), ...halfPts(bGray2), ...bGrayExtra], GRAY, 2),
        scat(1, [...gridPts(bBlack), ...halfPts(bBlack2), ...bBlackExtra], BLACK, 3),
        fitLine(1, bFitT, bFitY),
        scat(2, [...gridPts(cGray), ...halfPts(cGray2), ...cGrayExtra], GRAY, 2),
        scat(2, [...gridPts(cBlack), ...halfPts(cBlack2), ...cBlackExtra], BLACK, 3),
        fitLine(2, cFitT, cFitY),
        scat(3, [...gridPts(dGray), ...halfPts(dGray2), ...dGrayExtra], GRAY, 2),
        scat(3, [...gridPts(dBlack), ...halfPts(dBlack2), ...dBlackExtra], BLACK, 3),
        fitLine(3, dFitT, dFitY),
      ],
      graphic: {
        elements: [
          // frame
          line(4.5, 11.5, 1172, 11.5),
          line(5.5, 10.5, 5.5, 1068),
          line(596.5, 10.5, 596.5, 1068),
          line(4.5, 552.3, 1172, 552.3),
          // y titles
          yTitle(61.5, 216, 18),
          yTitle(670, 266, 20.5),
          yTitle(80, 762, 20),
          yTitle(666.5, 814, 18.7),
          // panel A
          txt(139.3, 96.7, panelLetters[0], 19),
          txt(136.7, 124, panelNames[0], 19),
          txt(136.7, 148.3, saltText, 19),
          ...params(aParNames, aParVals, 272.7, 321.7, [103.3, 120.7, 138.3, 155.3, 172.3], 14),
          // panel B
          txt(736, 81.7, panelLetters[1], 20.5),
          txt(736, 106, panelNames[1], 20.5),
          txt(736, 131, saltText, 20.5),
          ...params(bParNames, bParVals, 822.7, 877.3, [220, 239, 259], 15),
          // panel C
          txt(158, 597, panelLetters[2], 20),
          txt(153, 619, panelNames[2], 20),
          txt(153, 643, saltText, 20),
          ...params(cParNames, cParVals, 179.9, 239.2, [845, 867, 887], 16),
          // panel D
          txt(963, 628.8, panelLetters[3], 18.5),
          txt(963, 651.8, panelNames[3], 18.5),
          txt(963, 674.1, saltText, 18.5),
          ...params(dParNames, dParVals, 737.7, 791.6, [769.1, 789.7, 807.9, 826.8, 846.3], 15),
        ],
      },
    };
    chart.setOption(option);
    return () => chart.dispose();
  }, []);
  return (
    <div
      ref={ref}
      style={{ position: "absolute", left: 0, top: 0, width: 1172, height: 1068, background: "#fff" }}
    />
  );
}
